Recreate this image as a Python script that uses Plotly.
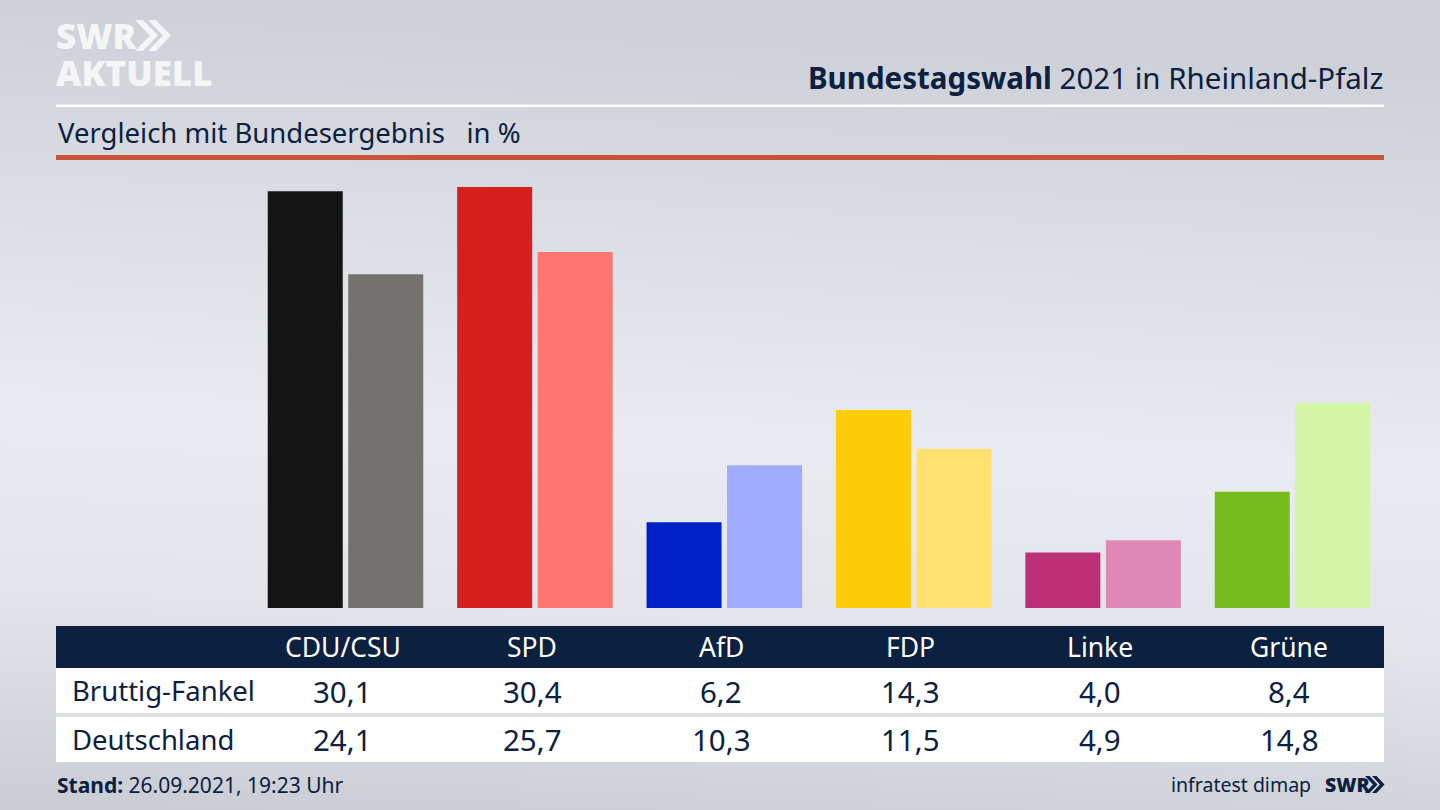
import base64
import plotly.graph_objects as go

parties = ["CDU/CSU", "SPD", "AfD", "FDP", "Linke", "Grüne"]
bruttig_fankel = [30.1, 30.4, 6.2, 14.3, 4.0, 8.4]
deutschland = [24.1, 25.7, 10.3, 11.5, 4.9, 14.8]
colors_local = ["#141414", "#d71f1d", "#0020c8", "#ffcc0a", "#bd2f77", "#76bc1c"]
colors_federal = ["#74726f", "#ff7570", "#9dacff", "#ffe070", "#df88b7", "#d3f5a5"]
row_names = ["Bruttig-Fankel", "Deutschland"]

W, H = 1440, 810
NAVY = "#0c2040"
FONT = "Noto Sans"
LOGO = "Open Sans"


def px(x):
    return x / W


def py(y):
    return 1 - y / H


svg = (
    f'<svg xmlns="http://www.w3.org/2000/svg" width="{W}" height="{H}" preserveAspectRatio="none">'
    '<defs><linearGradient id="g" x1="0.04" y1="0" x2="-0.04" y2="1">'
    '<stop offset="0" stop-color="#cdd0d7"/>'
    '<stop offset="0.5" stop-color="#e9ebf0"/>'
    '<stop offset="0.72" stop-color="#e3e5ea"/>'
    '<stop offset="1" stop-color="#c9ccd3"/>'
    '</linearGradient></defs>'
    f'<rect width="{W}" height="{H}" fill="url(#g)"/></svg>'
)
bg_uri = "data:image/svg+xml;base64," + base64.b64encode(svg.encode()).decode()

fig = go.Figure()
for name, vals, cols in [
    (row_names[0], bruttig_fankel, colors_local),
    (row_names[1], deutschland, colors_federal),
]:
    fig.add_trace(go.Bar(x=parties, y=vals, name=name, marker=dict(color=cols, line_width=0), hoverinfo="skip"))


def rect(x0, y0, x1, y1, color):
    return dict(type="rect", xref="paper", yref="paper", x0=px(x0), x1=px(x1), y0=py(y0), y1=py(y1),
                fillcolor=color, line_width=0, layer="below")


def chevrons(x, y0, y1, w, t, gap, color):
    """two '>>' chevrons in paper coordinates"""
    out = []
    ym = (y0 + y1) / 2
    for i in range(2):
        xs = x + i * gap
        pts = [(xs, y0), (xs + t, y0), (xs + t + w, ym), (xs + t, y1), (xs, y1), (xs + w, ym)]
        path = "M " + " L ".join(f"{px(a):.5f},{py(b):.5f}" for a, b in pts) + " Z"
        out.append(dict(type="path", xref="paper", yref="paper", path=path, fillcolor=color, line_width=0))
    return out


shapes = [
    rect(56, 104.5, 1384, 107, "#ffffff"),
    rect(56, 155, 1384, 160, "#c8533c"),
    rect(56, 626, 1384, 668, NAVY),
    rect(56, 668, 1384, 713, "#ffffff"),
    rect(56, 713, 1384, 717, "#dfe0e4"),
    rect(56, 717, 1384, 762, "#ffffff"),
]
shapes += chevrons(135, 20, 51, 15, 8, 13, "#f4f5f7")
shapes += chevrons(1365, 776, 793, 8, 4.5, 7, NAVY)

annotations = []


def text(x, y, s, size, color=NAVY, anchor="left", family=FONT, weight=None):
    annotations.append(dict(
        xref="paper", yref="paper", x=px(x), y=py(y), text=s, showarrow=False, xanchor=anchor, yanchor="middle",
        align=anchor, borderpad=0, font=dict(family=family, size=size, color=color, weight=weight),
    ))


text(55, 36, "SWR", 35, "#f4f5f7", family=LOGO, weight=800)
text(55, 72, "AKTUELL", 35, "#f4f5f7", family=LOGO, weight=800)
text(1384, 77, "<b>Bundestagswahl</b> 2021 in Rheinland-Pfalz", 29.5, anchor="right")
text(57, 132, "Vergleich mit Bundesergebnis &nbsp; in %", 27.5)

col_x = [342.5, 532, 721, 910.5, 1100, 1289]
for cx, party, a, b in zip(col_x, parties, bruttig_fankel, deutschland):
    text(cx, 647, party, 26.5, "#ffffff", anchor="center")
    text(cx, 691, f"{a:.1f}".replace(".", ","), 29.5, anchor="center")
    text(cx, 739.5, f"{b:.1f}".replace(".", ","), 29.5, anchor="center")
text(71, 690, row_names[0], 27.5)
text(71, 739, row_names[1], 27.5)
text(56, 785, "<b>Stand:</b> 26.09.2021, 19:23 Uhr", 21)
text(1312, 784, "infratest dimap", 19.5, anchor="right")
text(1324, 784, "SWR", 19.5, family=LOGO, weight=800)

CAT0, STEP = 345.5, 189.4
fig.update_layout(
    width=W, height=H, autosize=False,
    margin=dict(l=0, r=0, t=0, b=0, pad=0),
    paper_bgcolor="#e2e4e9", plot_bgcolor="rgba(0,0,0,0)",
    barmode="group", bargap=0.15, bargroupgap=0.0683,
    showlegend=False,
    shapes=shapes, annotations=annotations,
    images=[dict(source=bg_uri, xref="paper", yref="paper", x=0, y=1, sizex=1, sizey=1,
                 sizing="stretch", xanchor="left", yanchor="top", layer="below")],
    xaxis=dict(type="category", domain=[0, 1], range=[(0 - CAT0) / STEP, (W - CAT0) / STEP],
               visible=False, fixedrange=True),
    yaxis=dict(domain=[py(608), py(187)], range=[0, max(bruttig_fankel)], visible=False, fixedrange=True),
)

fig.write_html("out.html", config={"displayModeBar": False},
               post_script="document.body.style.margin='0';document.body.style.overflow='hidden';")
